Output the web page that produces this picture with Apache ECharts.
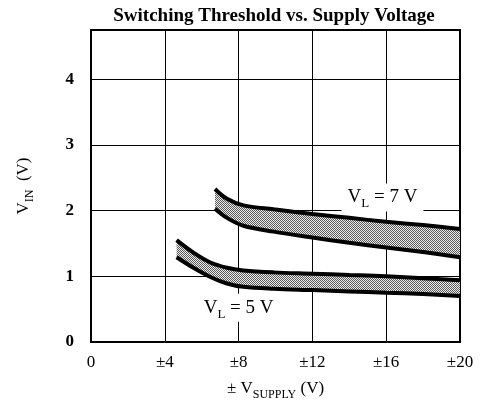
<!DOCTYPE html>
<html>
<head>
<meta charset="utf-8">
<script src="https://cdn.jsdelivr.net/npm/echarts@6/dist/echarts.min.js"></script>
<style>
  html, body { margin: 0; padding: 0; background: #fff; }
  #chart { width: 483px; height: 401px; }
</style>
</head>
<body>
<div id="chart"></div>
<script>
// x values (± supply voltage) and thresholds
const x7 = [6.72, 7.37, 8.26, 9.9, 12, 14, 16, 18, 20];
const upper7 = [2.33, 2.18, 2.08, 2.02, 1.95, 1.89, 1.83, 1.78, 1.72];
const lower7 = [2.03, 1.89, 1.77, 1.68, 1.59, 1.51, 1.44, 1.37, 1.29];

const x5 = [4.64, 5.55, 6.47, 7.37, 8.26, 9.9, 12, 14, 16, 18, 20];
const upper5 = [1.55, 1.36, 1.21, 1.13, 1.09, 1.06, 1.04, 1.02, 1.00, 0.97, 0.94];
const lower5 = [1.29, 1.13, 0.99, 0.89, 0.84, 0.81, 0.79, 0.77, 0.75, 0.73, 0.70];

const xTicks = ['0', '±4', '±8', '±12', '±16', '±20'];

const serif = '"Liberation Serif", "DejaVu Serif", serif';

// dotted grey fill like the halftone band
function makePattern () {
  const c = document.createElement('canvas');
  c.width = 2; c.height = 2;
  const ctx = c.getContext('2d');
  ctx.fillStyle = '#ececec';
  ctx.fillRect(0, 0, 2, 2);
  ctx.fillStyle = '#5a5a5a';
  ctx.fillRect(0, 0, 1, 1);
  ctx.fillRect(1, 1, 1, 1);
  return c;
}
const pattern = { image: makePattern(), repeat: 'repeat' };

const pairs = (xs, ys) => xs.map((x, i) => [x, ys[i]]);
// [y, x] order so the stack runs on the y value
const flipped = (xs, ys) => xs.map((x, i) => [ys[i], x]);
const diffs = (up, lo) => up.map((u, i) => +(u - lo[i]).toFixed(3));

function bandSeries (name, xs, up, lo) {
  const base = {
    type: 'line', smooth: 0.35, symbol: 'none', silent: true
  };
  return [
    { ...base, name: name + 'base', stack: name, encode: { x: 1, y: 0 },
      data: flipped(xs, lo), lineStyle: { opacity: 0 } },
    { ...base, name: name + 'fill', stack: name, encode: { x: 1, y: 0 },
      data: flipped(xs, diffs(up, lo)), lineStyle: { opacity: 0 },
      areaStyle: { color: pattern, opacity: 1 } },
    { ...base, name: name + 'up', data: pairs(xs, up), lineStyle: { color: '#000', width: 4 } },
    { ...base, name: name + 'lo', data: pairs(xs, lo), lineStyle: { color: '#000', width: 4 } }
  ];
}

function labelPoint (coord, num) {
  return {
    coord: coord,
    symbol: 'rect',
    symbolSize: 1,
    itemStyle: { color: 'rgba(0,0,0,0)' },
    label: {
      show: true,
      position: 'inside',
      backgroundColor: '#fff',
      padding: [3, 6, 3, 6],
      formatter: '{v|V}{s|L}{v| = ' + num + ' V}',
      rich: {
        v: { fontFamily: serif, fontSize: 19, color: '#000', lineHeight: 22, verticalAlign: 'middle' },
        s: { fontFamily: serif, fontSize: 13, color: '#000', lineHeight: 22, verticalAlign: 'bottom', padding: [0, 0, -2, 0] }
      }
    }
  };
}

const series = [
  ...bandSeries('b7', x7, upper7, lower7),
  ...bandSeries('b5', x5, upper5, lower5)
];
series[2].markPoint = { silent: true, data: [labelPoint([15.8, 2.2], 7)] };
series[6].markPoint = { silent: true, data: [labelPoint([8, 0.52], 5)] };

const nameRich = {
  v: { fontFamily: serif, fontSize: 17, color: '#000', lineHeight: 22, verticalAlign: 'middle' },
  s: { fontFamily: serif, fontSize: 12, color: '#000', lineHeight: 22, verticalAlign: 'bottom', padding: [0, 0, -1, 0] }
};

const chart = echarts.init(document.getElementById('chart'));
chart.setOption({
  animation: false,
  backgroundColor: '#fff',
  title: {
    text: 'Switching Threshold vs. Supply Voltage',
    left: 269,
    textAlign: 'center',
    top: 2,
    textStyle: { fontFamily: serif, fontSize: 19, fontWeight: 'bold', color: '#000' }
  },
  grid: {
    left: 91, right: 23, top: 30, bottom: 59,
    outerBoundsMode: 'none',
    containLabel: false,
    show: true, borderColor: '#000', borderWidth: 2, backgroundColor: 'transparent'
  },
  xAxis: {
    type: 'value',
    min: 0, max: 20, interval: 4,
    axisLine: { show: false },
    axisTick: { show: false },
    splitLine: { show: true, lineStyle: { color: '#000', width: 1 } },
    axisLabel: {
      margin: 12,
      fontFamily: serif, fontSize: 17, color: '#000',
      formatter: v => xTicks[Math.round(v / 4)],
      showMaxLabel: true
    },
    name: '{v|± V}{s|SUPPLY}{v| (V)}',
    nameLocation: 'middle',
    nameGap: 36,
    nameTextStyle: { rich: nameRich }
  },
  yAxis: {
    type: 'value',
    min: 0, max: 4.75, interval: 1,
    axisLine: { show: false },
    axisTick: { show: false },
    splitLine: { show: true, lineStyle: { color: '#000', width: 1 } },
    axisLabel: {
      margin: 17,
      fontFamily: serif, fontSize: 17, fontWeight: 'bold', color: '#000',
      formatter: v => (Number.isInteger(v) ? String(v) : '')
    },
    name: '{v|V}{s|IN}{v|  (V)}',
    nameLocation: 'middle',
    nameGap: 56,
    nameTextStyle: { rich: nameRich }
  },
  series: series
});
</script>
</body>
</html>
